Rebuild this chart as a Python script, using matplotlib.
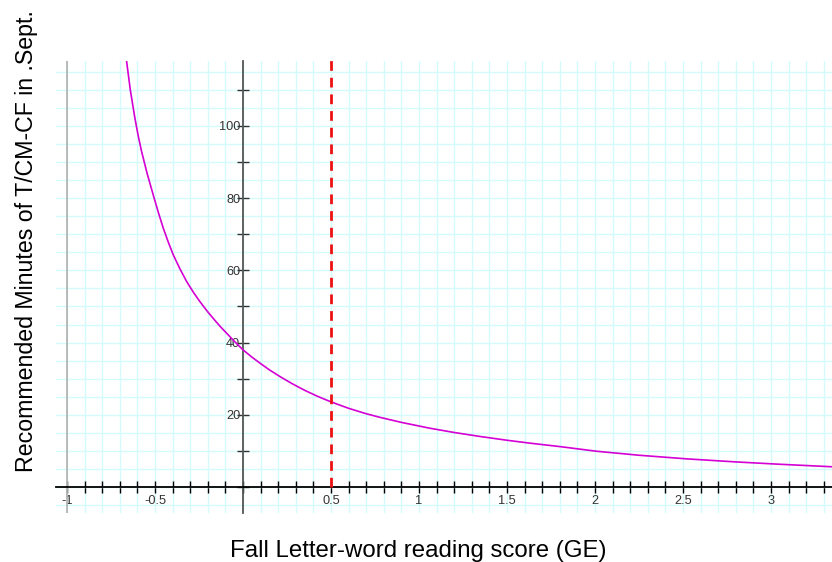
import matplotlib
matplotlib.use('Agg')
import matplotlib.pyplot as plt
from matplotlib.ticker import MultipleLocator, FuncFormatter

plt.rcParams['font.family'] = ['Liberation Sans', 'DejaVu Sans']

# curve (reading score GE -> minutes)
score_ge = [-0.661, -0.64, -0.614, -0.595, -0.576, -0.545, -0.51, -0.48,
            -0.453, -0.425, -0.396, -0.36, -0.32, -0.28, -0.244, -0.2,
            -0.169, -0.13, -0.093, -0.05, 0.0, 0.05, 0.097, 0.15, 0.21,
            0.28, 0.35, 0.42, 0.494, 0.6, 0.7, 0.778, 0.9, 1.06, 1.2,
            1.347, 1.5, 1.63, 1.8, 2.01, 2.25, 2.52, 2.8, 3.05, 3.35]
minutes = [117.8, 109.9, 102.1, 97.2, 92.9, 86.9, 80.9, 75.9,
           71.7, 67.9, 64.3, 60.6, 56.9, 53.8, 51.3, 48.5,
           46.7, 44.5, 42.6, 40.4, 38.0, 36.0, 34.3, 32.45, 30.6,
           28.6, 26.8, 25.2, 23.7, 21.8, 20.3, 19.3, 17.9, 16.3, 15.1,
           14.0, 12.95, 12.15, 11.2, 9.9, 8.8, 7.8, 6.95, 6.3, 5.6]

cutoff_ge = 0.5

X_LABEL = 'Fall Letter-word reading score (GE)'
Y_LABEL = 'Recommended Minutes of T/CM-CF in .Sept.'

GRID_COLOR = '#d4fbfb'
CURVE_COLOR = '#d400d4'

W, H = 832, 562
fig = plt.figure(figsize=(W / 100, H / 100), dpi=100)
ax = fig.add_axes([56 / W, (H - 513) / H, (832 - 56) / W, (513 - 61) / H])

ax.set_xlim(-1.0625, 3.347)
ax.set_ylim(-7.2, 118.0)

# grid every 0.1 on x, every 5 on y
ax.xaxis.set_major_locator(MultipleLocator(0.1))
ax.yaxis.set_major_locator(MultipleLocator(10))
ax.yaxis.set_minor_locator(MultipleLocator(5))
ax.grid(True, which='both', color=GRID_COLOR, lw=1.0, zorder=0)
ax.set_axisbelow(True)

# axes crossing at the origin
for side in ['top', 'right']:
    ax.spines[side].set_visible(False)
ax.spines['left'].set_position(('data', 0))
ax.spines['bottom'].set_position(('data', 0))
ax.spines['left'].set_color('#555555')
ax.spines['left'].set_linewidth(1.3)
ax.spines['bottom'].set_color('black')
ax.spines['bottom'].set_linewidth(1.3)
ax.axvline(-1, color='#b4b4b4', lw=1.3, zorder=1)


def x_fmt(v, pos):
    r = round(v * 10)
    if r == 0 or r % 5 != 0:
        return ''
    return ('%g' % (r / 10.0))


def y_fmt(v, pos):
    r = int(round(v))
    if r <= 0 or r % 20 != 0:
        return ''
    return str(r)


ax.xaxis.set_major_formatter(FuncFormatter(x_fmt))
ax.yaxis.set_major_formatter(FuncFormatter(y_fmt))
ax.tick_params(axis='x', which='major', direction='inout', length=9, width=1,
               color='black', labelsize=9.2, labelcolor='#333333', pad=1)
ax.tick_params(axis='y', which='major', direction='inout', length=8, width=1,
               color='#333333', labelsize=9.2, labelcolor='#333333', pad=-2)
ax.tick_params(axis='y', which='minor', length=0)

# curve and cutoff
ax.plot(score_ge, minutes, color=CURVE_COLOR, lw=1.2, zorder=3)
ax.plot([cutoff_ge, cutoff_ge], [0, 119.2], color='#ee1111', lw=2,
        dashes=(3.5, 2.5), clip_on=False, zorder=4)

fig.text(418.5 / W, (H - 557) / H, X_LABEL, fontsize=17.3,
         ha='center', va='baseline')
fig.text(27 / W, 1 - 241.5 / H, Y_LABEL, fontsize=16.7, rotation=90,
         ha='center', va='center')

fig.savefig('out.png', dpi=100)
